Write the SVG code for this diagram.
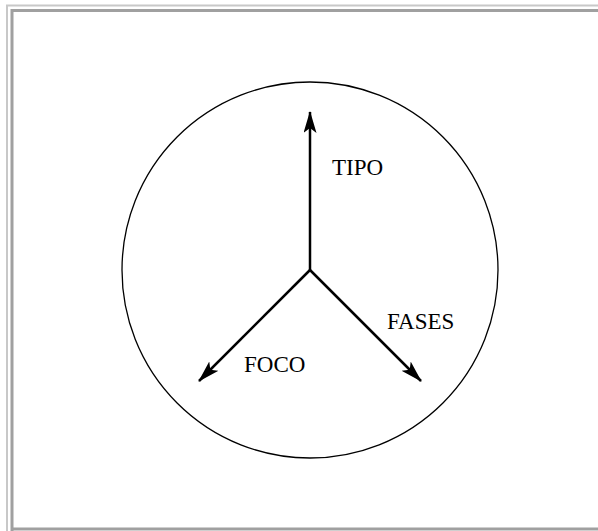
<svg xmlns="http://www.w3.org/2000/svg" width="598" height="531" viewBox="0 0 598 531">
<style>
.lbl{font-family:"Liberation Serif","Times New Roman",serif;font-size:23px;fill:#000}
.conn{stroke:#000;stroke-width:2.5;fill:none;marker-end:url(#ah)}
</style>
<defs>
<marker id="ah" markerWidth="24" markerHeight="14" refX="21" refY="6.5" orient="auto" markerUnits="userSpaceOnUse">
<path d="M0,0 L22,6.5 L0,13 L5,6.5 Z" fill="#000"/>
</marker>
</defs>
<rect width="598" height="531" fill="#fff"/>
<g id="frame">
<path d="M7,531 V5.5 H598" stroke="#c8c8c8" stroke-width="2" fill="none"/>
<path d="M12,531 V10.5 H598" stroke="#a0a0a0" stroke-width="3" fill="none"/>
<path d="M12,529 H598" stroke="#a0a0a0" stroke-width="3" fill="none"/>
</g>
<g id="circle"><circle cx="310" cy="270" r="188" fill="none" stroke="#000" stroke-width="1.3"/></g>
<g id="connectors">
<line class="conn" x1="310" y1="270" x2="310" y2="112"/>
<line class="conn" x1="310" y1="270" x2="199" y2="381"/>
<line class="conn" x1="310" y1="270" x2="421" y2="381"/>
</g>
<g id="tipo"><text class="lbl" x="332" y="175">TIPO</text></g>
<g id="fases"><text class="lbl" x="387" y="329">FASES</text></g>
<g id="foco"><text class="lbl" x="244" y="372">FOCO</text></g>
</svg>
